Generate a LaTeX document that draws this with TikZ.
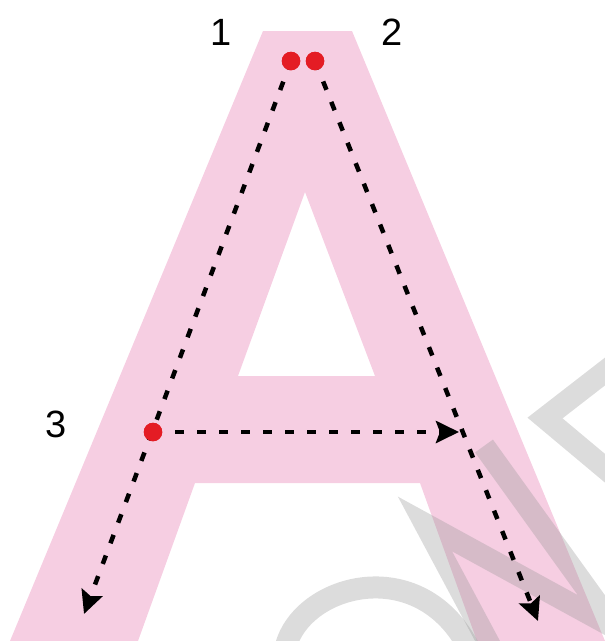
\documentclass[tikz,border=0pt]{standalone}
\usepackage{fontspec}
\setmainfont{Liberation Sans}
\usetikzlibrary{arrows.meta}
\definecolor{apink}{RGB}{246,206,226}
\definecolor{dotred}{RGB}{228,28,36}
\definecolor{wmgrey}{RGB}{150,150,150}
\tikzset{
  letterfill/.style={fill=apink, draw=none},
  trace/.style={black, line width=4.5pt, dash pattern=on 9pt off 13pt,
    -{Stealth[length=23pt, width=22pt, inset=4pt]}},
  startdot/.style={circle, fill=dotred, draw=none, minimum size=18.5pt, inner sep=0pt},
  numlabel/.style={font=\fontsize{38}{40}\selectfont, text=black, inner sep=0pt},
  watermark/.style={draw=wmgrey, opacity=0.33, line width=22pt, line join=miter}
}
\begin{document}
\begin{tikzpicture}[x=1pt, y=-1pt]
\useasboundingbox (0,0) rectangle (605,641);
% letter A
\fill[letterfill, even odd rule]
  (263,31) -- (352,31) -- (605,641) -- (477,641) -- (420,483) -- (195,483)
  -- (138,641) -- (10,641) -- cycle
  (305,192) -- (375,376) -- (238,376) -- cycle;
% watermark fragments
\begin{scope}
\clip (0,0) rectangle (605,641);
\draw[watermark] (285,650) .. controls (298,585) and (420,550) .. (470,650);
\draw[watermark] (495,655) -- (425,524) -- (615,628) -- (484,446);
\draw[watermark] (625,356) -- (545,418) -- (625,485);
\end{scope}
% start points and ends
\node[startdot] (d1) at (291,61) {};
\node[startdot] (d2) at (315,61) {};
\node[startdot] (d3) at (153,432) {};
\coordinate (e1) at (84,614);
\coordinate (e2) at (538,621);
\coordinate (e3) at (459,432);
% strokes
\draw[trace] (d1.center) -- (e1);
\draw[trace] (d2.center) -- (e2);
\draw[trace] (d3.center) -- (e3);
% redraw dots on top
\node[startdot] at (d1) {};
\node[startdot] at (d2) {};
\node[startdot] at (d3) {};
% labels
\node[numlabel] (l1) at (221,32) {1};
\node[numlabel] (l2) at (392,32) {2};
\node[numlabel] (l3) at (56,424) {3};
\end{tikzpicture}
\end{document}
